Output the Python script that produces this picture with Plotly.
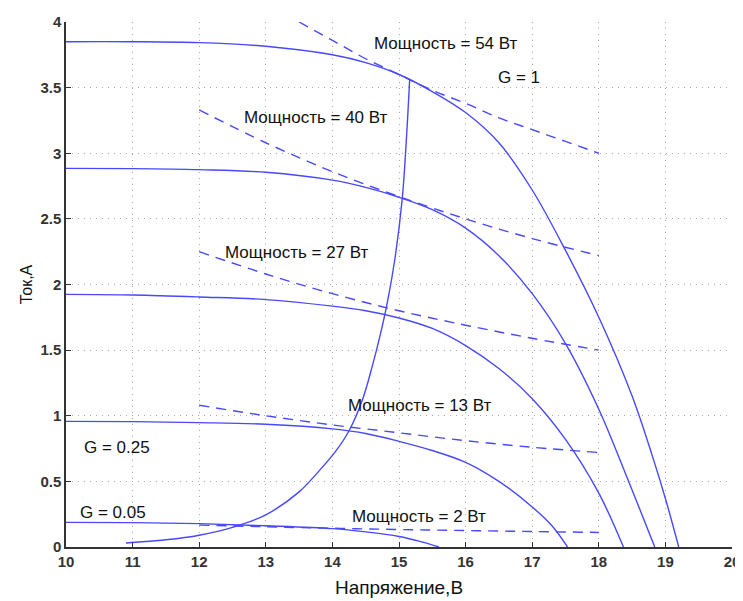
import plotly.graph_objects as go

# I-V curves (voltage V, current A)
v_g100 = [10, 11, 12, 13, 14, 14.5, 15, 15.5, 16, 16.5, 17, 17.5, 18, 18.5, 18.8, 19.0, 19.2]
i_g100 = [3.85, 3.85, 3.843, 3.815, 3.75, 3.69, 3.6, 3.47, 3.31, 3.08, 2.72, 2.26, 1.75, 1.15, 0.7, 0.37, 0.0]

v_g75 = [10, 11, 12, 13, 14, 14.5, 15, 15.5, 16, 16.5, 17, 17.5, 18, 18.4, 18.84]
i_g75 = [2.885, 2.883, 2.875, 2.855, 2.795, 2.74, 2.665, 2.57, 2.43, 2.22, 1.93, 1.55, 1.05, 0.56, 0.0]

v_g50 = [10, 11, 12, 13, 14, 14.5, 15, 15.5, 16, 16.5, 17, 17.5, 18, 18.37]
i_g50 = [1.925, 1.92, 1.905, 1.885, 1.835, 1.8, 1.745, 1.665, 1.535, 1.36, 1.13, 0.82, 0.41, 0.0]

v_g25 = [10, 11, 12, 13, 14, 14.5, 15, 15.5, 16, 16.5, 17, 17.3, 17.53]
i_g25 = [0.957, 0.955, 0.948, 0.935, 0.9, 0.865, 0.805, 0.735, 0.645, 0.5, 0.305, 0.16, 0.0]

v_g05 = [10, 11, 12, 13, 14, 14.5, 15, 15.3, 15.6]
i_g05 = [0.188, 0.186, 0.178, 0.162, 0.14, 0.115, 0.08, 0.045, 0.0]

# maximum power point trajectory
v_mpp = [10.9, 11.5, 12.0, 12.5, 13.0, 13.5, 13.8, 14.05, 14.25, 14.45, 14.6, 14.72, 14.82, 14.94, 15.05, 15.11, 15.16]
i_mpp = [0.03, 0.055, 0.09, 0.15, 0.245, 0.42, 0.58, 0.73, 0.886, 1.12, 1.38, 1.62, 1.85, 2.2, 2.66, 3.1, 3.56]

# constant power lines (dashed)
v_p54 = [13.5, 14, 14.5, 15, 15.5, 16, 16.5, 17, 17.5, 18]
i_p54 = [4.0, 3.86, 3.72, 3.6, 3.48, 3.38, 3.27, 3.18, 3.09, 3.0]
v_p = [12, 13, 14, 15, 16, 17, 18]
i_p40 = [3.33, 3.08, 2.86, 2.67, 2.5, 2.35, 2.22]
i_p27 = [2.25, 2.08, 1.93, 1.8, 1.69, 1.59, 1.5]
i_p13 = [1.08, 1.0, 0.93, 0.87, 0.81, 0.76, 0.72]
i_p2 = [0.167, 0.154, 0.143, 0.133, 0.125, 0.118, 0.111]

# labels: (text, x, y)
label_text = ["Мощность = 54 Вт", "G = 1", "Мощность = 40 Вт", "Мощность = 27 Вт",
              "Мощность = 13 Вт", "G = 0.25", "G = 0.05", "Мощность = 2 Вт"]
label_x = [14.59, 16.45, 12.64, 12.35, 14.21, 10.24, 10.18, 14.27]
label_y = [3.835, 3.58, 3.27, 2.245, 1.077, 0.757, 0.263, 0.233]

x_ticks = [10, 11, 12, 13, 14, 15, 16, 17, 18, 19, 20]
y_ticks = [0, 0.5, 1, 1.5, 2, 2.5, 3, 3.5, 4]
y_tick_text = ["0", "0.5", "1", "1.5", "2", "2.5", "3", "3.5", "4"]

BLUE = "rgb(72,72,255)"
FONT = "Liberation Sans, Arial, sans-serif"
fig = go.Figure()

for vx, iy in [(v_g100, i_g100), (v_g75, i_g75), (v_g50, i_g50), (v_g25, i_g25), (v_g05, i_g05), (v_mpp, i_mpp)]:
    fig.add_trace(go.Scatter(x=vx, y=iy, mode="lines",
                             line=dict(color=BLUE, width=1.4, shape="spline", smoothing=1.0),
                             showlegend=False, hoverinfo="skip"))

for vx, iy in [(v_p54, i_p54), (v_p, i_p40), (v_p, i_p27), (v_p, i_p13), (v_p, i_p2)]:
    fig.add_trace(go.Scatter(x=vx, y=iy, mode="lines",
                             line=dict(color=BLUE, width=1.4, dash="10px,7px", shape="spline", smoothing=1.0),
                             showlegend=False, hoverinfo="skip"))

for t, x, y in zip(label_text, label_x, label_y):
    fig.add_annotation(x=x, y=y, text=t, showarrow=False, xanchor="left", yanchor="middle",
                       font=dict(family=FONT, size=17, color="#111"))

axis_common = dict(
    showgrid=True, gridcolor="#a8a8a8", griddash="1px,5px", gridwidth=1,
    zeroline=False, showline=True, linecolor="#333", linewidth=1.5,
    ticks="inside", ticklen=5, tickcolor="#333", tickwidth=1, automargin=False,
    tickfont=dict(family=FONT, size=15, color="#333", weight="bold"),
)

fig.update_xaxes(range=[10, 20], tickvals=x_ticks, ticktext=[str(v) for v in x_ticks],
                 title=dict(text="Напряжение,В", standoff=12,
                            font=dict(family=FONT, size=19, color="#111")),
                 **axis_common)
fig.update_yaxes(range=[0, 4], tickvals=y_ticks, ticktext=y_tick_text,
                 title=dict(text="Ток,А", standoff=4,
                            font=dict(family=FONT, size=16, color="#111")),
                 **axis_common)

# the page body has an 8px margin, so the figure is sized to end at the window edge
fig.update_layout(width=735, height=593, paper_bgcolor="white", plot_bgcolor="white",
                  margin=dict(l=58, r=11, t=14, b=54), showlegend=False)

fig.write_html("out.html")
